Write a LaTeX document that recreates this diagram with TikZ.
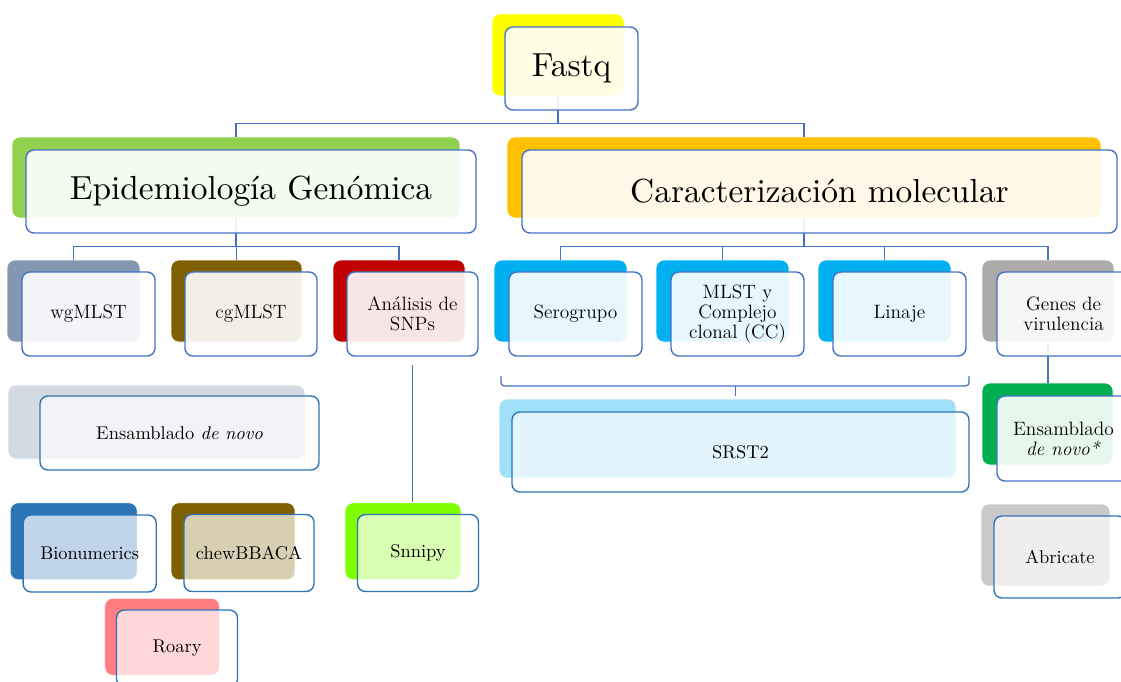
\documentclass[tikz,border=0pt]{standalone}
\usepackage{fontspec}
\newfontfamily\headfont{lmroman10-regular.otf}
\usepackage{tikz}
\usetikzlibrary{positioning}
\definecolor{lineblue}{HTML}{4472C4}
\definecolor{liteblue}{HTML}{2E75B6}
\definecolor{cYellow}{HTML}{FFFF00}
\definecolor{cGreen}{HTML}{92D050}
\definecolor{cOrange}{HTML}{FFC000}
\definecolor{cSlate}{HTML}{8497B0}
\definecolor{cOlive}{HTML}{7F6000}
\definecolor{cRed}{HTML}{C00000}
\definecolor{cCyan}{HTML}{00B0F0}
\definecolor{cGray}{HTML}{AEAAAA}
\definecolor{cSky}{HTML}{A0E0F8}
\definecolor{cEmerald}{HTML}{00B050}
\definecolor{cSilver}{HTML}{C9C9C9}
\definecolor{cMist}{HTML}{D3DAE2}
\definecolor{cSteel}{HTML}{2E75B6}
\definecolor{cLime}{HTML}{80FF00}
\definecolor{cSalmon}{HTML}{FF7C80}
\def\unitpx{0.02cm}

\begin{document}
\begin{tikzpicture}[x=0.02cm, y=-0.02cm,
    backbox/.style={rounded corners=4.5pt, draw=white, line width=0.4pt, inner sep=0pt},
    frontbox/.style={rounded corners=4.5pt, draw=lineblue, line width=0.8pt, fill=white,
        fill opacity=0.9, text opacity=1, align=center, inner sep=0pt,
        font=\fontsize{11}{11.5}\selectfont},
    bigbox/.style={frontbox, font=\headfont\fontsize{19}{23}\selectfont},
    litebox/.style={frontbox, draw=liteblue, fill opacity=0.7,
        font=\fontsize{10.5}{12}\selectfont},
    conn/.style={draw=lineblue, line width=0.75pt}]
    \path[use as bounding box, fill=white] (0,0) rectangle (1121,682);
    % back boxes
    \node[backbox, fill=cYellow, minimum width=132*\unitpx, minimum height=82*\unitpx] (fastqB) at (558,55) {};
    \node[backbox, fill=cGreen, minimum width=448*\unitpx, minimum height=81*\unitpx] (epiB) at (236,177.5) {};
    \node[backbox, fill=cOrange, minimum width=594*\unitpx, minimum height=81*\unitpx] (carB) at (804,177.5) {};
    \node[backbox, fill=cSlate, minimum width=133*\unitpx, minimum height=82*\unitpx] (wgB) at (73.5,301) {};
    \node[backbox, fill=cOlive, minimum width=131*\unitpx, minimum height=82*\unitpx] (cgB) at (236.5,301) {};
    \node[backbox, fill=cRed, minimum width=132*\unitpx, minimum height=82*\unitpx] (snpB) at (399,301) {};
    \node[backbox, fill=cCyan, minimum width=133*\unitpx, minimum height=82*\unitpx] (seroB) at (560.5,301) {};
    \node[backbox, fill=cCyan, minimum width=133*\unitpx, minimum height=82*\unitpx] (mlstB) at (722.5,301) {};
    \node[backbox, fill=cCyan, minimum width=133*\unitpx, minimum height=82*\unitpx] (linB) at (884.5,301) {};
    \node[backbox, fill=cGray, minimum width=132*\unitpx, minimum height=82*\unitpx] (genesB) at (1048,301) {};
    \node[backbox, fill=cSky, minimum width=457*\unitpx, minimum height=79*\unitpx] (srstB) at (727.5,438.5) {};
    \node[backbox, fill=cEmerald, minimum width=131*\unitpx, minimum height=82*\unitpx] (ensvB) at (1047.5,424) {};
    \node[backbox, fill=cSilver, minimum width=129*\unitpx, minimum height=82*\unitpx] (abrB) at (1045.5,545) {};
    \node[backbox, fill=cMist, minimum width=297*\unitpx, minimum height=74*\unitpx] (ensB) at (156.5,422) {};
    \node[backbox, fill=cSteel, minimum width=127*\unitpx, minimum height=77*\unitpx] (bioB) at (73.7,541.3) {};
    \node[backbox, fill=cOlive, minimum width=124*\unitpx, minimum height=77*\unitpx] (chewB) at (233,541.3) {};
    \node[backbox, fill=cLime, minimum width=116*\unitpx, minimum height=77*\unitpx] (snnipyB) at (403,541.3) {};
    \node[backbox, fill=cSalmon, minimum width=115*\unitpx, minimum height=77*\unitpx] (roaryB) at (162.2,636.8) {};
    % connectors
    \draw[conn] (fastqB.south) -- ++(0,27) -| (epiB.north);
    \draw[conn] (fastqB.south) -- ++(0,27) -| (carB.north);
    \foreach \child in {wgB, cgB, snpB}
        \draw[conn] (epiB.south) -- ++(0,28) -| (\child.north);
    \foreach \child in {seroB, mlstB, linB, genesB}
        \draw[conn] (carB.south) -- ++(0,28) -| (\child.north);
    \draw[conn] (genesB.south) -- (genesB.south |- ensvB.north);
    \coordinate (braceL) at (501,376);
    \coordinate (braceM) at (735.5,386);
    \coordinate (braceR) at (969,376);
    \draw[conn, rounded corners=2pt] (braceL) |- (braceM) -| (braceR);
    \draw[conn] (braceM) -- ++(0,10);
    % front boxes
    \node[bigbox, minimum width=133*\unitpx, minimum height=83*\unitpx] (fastq) at (571.5,68.5) {Fastq};
    \node[bigbox, minimum width=450*\unitpx, minimum height=83*\unitpx] (epi) at (251,191.5) {Epidemiología Genómica};
    \node[bigbox, minimum width=595*\unitpx, minimum height=83*\unitpx] (car) at (819.5,191.5) {Caracterización molecular};
    \node[frontbox, minimum width=133*\unitpx, minimum height=84*\unitpx] (wg) at (88.5,314) {wgMLST};
    \node[frontbox, minimum width=132*\unitpx, minimum height=84*\unitpx] (cg) at (251,314) {cgMLST};
    \node[frontbox, minimum width=131*\unitpx, minimum height=84*\unitpx] (snp) at (412.5,314) {Análisis de\\SNPs};
    \node[frontbox, minimum width=133*\unitpx, minimum height=84*\unitpx] (sero) at (575.5,314) {Serogrupo};
    \node[frontbox, minimum width=133*\unitpx, minimum height=84*\unitpx] (mlst) at (737.5,314) {MLST y\\Complejo\\clonal (CC)};
    \node[frontbox, minimum width=133*\unitpx, minimum height=84*\unitpx] (lin) at (899.5,314) {Linaje};
    \node[frontbox, minimum width=133*\unitpx, minimum height=84*\unitpx] (genes) at (1063.5,314) {Genes de\\virulencia};
    \node[litebox, minimum width=457*\unitpx, minimum height=80*\unitpx] (srst) at (740.5,452) {SRST2};
    \node[frontbox, minimum width=133*\unitpx, minimum height=85*\unitpx] (ensv) at (1063.5,438.5) {Ensamblado\\\textit{de novo*}};
    \node[litebox, minimum width=132*\unitpx, minimum height=82*\unitpx] (abr) at (1060,557) {Abricate};
    \node[litebox, minimum width=279*\unitpx, minimum height=74*\unitpx] (ens) at (179.5,433) {Ensamblado \textit{de novo}};
    \node[litebox, minimum width=133*\unitpx, minimum height=77*\unitpx] (bio) at (89.7,553.5) {Bionumerics};
    \node[litebox, minimum width=130*\unitpx, minimum height=77*\unitpx] (chew) at (249,553) {chewBBACA};
    \node[litebox, minimum width=121*\unitpx, minimum height=77*\unitpx] (snnipy) at (418,553) {Snnipy};
    \node[litebox, minimum width=121*\unitpx, minimum height=77*\unitpx] (roary) at (177,648.5) {Roary};
    \draw[conn] ([yshift=-0.16cm]snp.south) -- (snp.south |- snnipyB.north);
\end{tikzpicture}
\end{document}
